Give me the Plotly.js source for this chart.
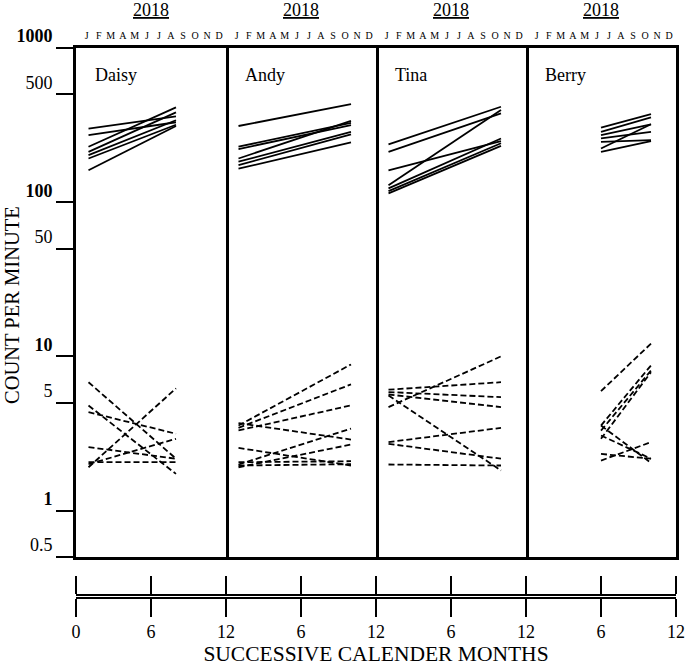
<!DOCTYPE html>
<html>
<head>
<meta charset="utf-8">
<script src="https://cdn.plot.ly/plotly-3.0.1.min.js"></script>
<style>body{margin:0;background:#fff}#chart{width:685px;height:666px}</style>
</head>
<body>
<div id="chart"></div>
<script>
// ---- data ----
const PANELS = ["Daisy", "Andy", "Tina", "Berry"];
const YEAR = "2018";
const MONTHS = ["J","F","M","A","M","J","J","A","S","O","N","D"];
const Y_TICKS = [1000, 500, 100, 50, 10, 5, 1, 0.5];
const Y_TICK_TEXT = ["<b>1000</b>", "500", "<b>100</b>", "50", "<b>10</b>", "5", "<b>1</b>", "0.5"];
const BOTTOM_TICKS = [0, 6, 12, 18, 24, 30, 36, 42, 48];
const BOTTOM_TICK_TEXT = ["0","6","12","6","12","6","12","6","12"];

const DAISY_MONTHS = [1, 8];
const DAISY_SOLID_START = [300, 272, 229, 212, 202, 192, 161];
const DAISY_SOLID_END   = [360, 330, 412, 382, 340, 318, 312];
const DAISY_DASH_START  = [6.8, 4.8, 4.35, 1.91, 2.58, 2.0, 2.06];
const DAISY_DASH_END    = [2.17, 1.73, 3.15, 6.2, 2.17, 2.92, 2.06];

const ANDY_MONTHS = [1, 10];
const ANDY_SOLID_START = [312, 229, 221, 192, 183, 174, 165];
const ANDY_SOLID_END   = [433, 327, 316, 337, 286, 275, 244];
const ANDY_DASH_START  = [3.56, 3.44, 3.31, 3.69, 2.55, 1.99, 1.91, 2.06, 1.96];
const ANDY_DASH_END    = [8.87, 6.58, 4.81, 2.89, 1.96, 3.40, 2.68, 2.09, 2.0];

const TINA_MONTHS = [1, 10];
const TINA_SOLID_START = [237, 212, 129, 161, 123, 118, 114];
const TINA_SOLID_END   = [416, 377, 396, 249, 259, 241, 232];
const TINA_DASH_START  = [4.69, 6.08, 5.87, 5.66, 5.58, 2.78, 2.71, 1.99];
const TINA_DASH_END    = [10.0, 6.8, 5.44, 4.69, 1.82, 3.44, 2.17, 1.96];

const BERRY_MONTHS = [6, 10];
const BERRY_SOLID_START = [304, 286, 272, 259, 246, 223, 212];
const BERRY_SOLID_END   = [373, 355, 320, 286, 253, 320, 249];
const BERRY_DASH_START  = [5.95, 3.56, 3.3, 2.92, 3.07, 2.33, 2.11, 3.56];
const BERRY_DASH_END    = [12.1, 8.74, 8.1, 7.9, 2.17, 2.17, 2.78, 2.04];

const SERIES = [
  {months: DAISY_MONTHS, ss: DAISY_SOLID_START, se: DAISY_SOLID_END, ds: DAISY_DASH_START, de: DAISY_DASH_END},
  {months: ANDY_MONTHS, ss: ANDY_SOLID_START, se: ANDY_SOLID_END, ds: ANDY_DASH_START, de: ANDY_DASH_END},
  {months: TINA_MONTHS, ss: TINA_SOLID_START, se: TINA_SOLID_END, ds: TINA_DASH_START, de: TINA_DASH_END},
  {months: BERRY_MONTHS, ss: BERRY_SOLID_START, se: BERRY_SOLID_END, ds: BERRY_DASH_START, de: BERRY_DASH_END}
];

// ---- build ----
const FONT = "Liberation Serif, Times New Roman, serif";
const traces = [];
SERIES.forEach((s, p) => {
  const xa = p === 0 ? 'x' : 'x' + (p + 1);
  const ya = p === 0 ? 'y' : 'y' + (p + 1);
  s.ss.forEach((v, i) => traces.push({
    x: s.months, y: [v, s.se[i]], xaxis: xa, yaxis: ya, mode: 'lines',
    line: {color: '#000', width: 1.8}, hoverinfo: 'skip', showlegend: false
  }));
  s.ds.forEach((v, i) => traces.push({
    x: s.months, y: [v, s.de[i]], xaxis: xa, yaxis: ya, mode: 'lines',
    line: {color: '#000', width: 1.8, dash: '6px,3px'}, hoverinfo: 'skip', showlegend: false
  }));
});
traces.push({x: [], y: [], xaxis: 'x5', yaxis: 'y5', mode: 'lines', showlegend: false});

const H = 666, MT = 48, MB = 69;
const PH = H - MT - MB;
const monthPos = MONTHS.map((m, i) => 0.85 + i * (10.6 / 11));

const layout = {
  width: 685, height: 666,
  margin: {l: 76, r: 9, t: MT, b: MB},
  paper_bgcolor: '#fff', plot_bgcolor: '#fff',
  font: {family: FONT, color: '#000'},
  showlegend: false,
  annotations: []
};
const yDom = [(597 - 557) / PH, 1];
PANELS.forEach((name, p) => {
  const k = p === 0 ? '' : String(p + 1);
  layout['xaxis' + k] = {
    domain: [p / 4, (p + 1) / 4], range: [0, 12], anchor: 'y' + k, side: 'top',
    tickvals: monthPos, ticktext: MONTHS, ticks: '', tickfont: {size: 10, family: FONT},
    showline: true, mirror: true, linewidth: 3, linecolor: '#000',
    showgrid: false, zeroline: false, fixedrange: true, ticklabelstandoff: 2
  };
  const ya = {
    domain: yDom, type: 'log', range: [Math.log10(0.5), 3], anchor: 'x' + k,
    showline: true, linewidth: 3, linecolor: '#000',
    showgrid: false, zeroline: false, fixedrange: true
  };
  if (p === 0) {
    Object.assign(ya, {
      mirror: true,
      tickvals: Y_TICKS, ticktext: Y_TICK_TEXT, ticks: 'outside', ticklen: 17,
      tickwidth: 2, tickcolor: '#000', tickfont: {size: 18, family: FONT},
      ticklabelshift: -12, ticklabelstandoff: 0
    });
  } else {
    Object.assign(ya, {matches: 'y', side: 'right', showticklabels: false, ticks: ''});
  }
  layout['yaxis' + k] = ya;
  layout.annotations.push({
    xref: 'paper', yref: 'paper', x: (p + 0.5) / 4, y: (H - MB - 10) / PH,
    text: '<u>' + YEAR + '</u>', showarrow: false, font: {size: 18, family: FONT},
    xanchor: 'center', yanchor: 'middle'
  });
  layout.annotations.push({
    xref: 'x' + k, yref: 'paper', x: 1.35, y: (H - MB - 75) / PH,
    text: name, showarrow: false, font: {size: 18, family: FONT},
    xanchor: 'left', yanchor: 'middle'
  });
});
layout.xaxis5 = {
  domain: [0, 1], range: [0, 48], anchor: 'y5',
  tickvals: BOTTOM_TICKS, ticktext: BOTTOM_TICK_TEXT, ticks: 'outside', ticklen: 18,
  tickwidth: 1.5, tickcolor: '#000', showline: true, linewidth: 1.5, linecolor: '#000',
  mirror: 'ticks', tickfont: {size: 18, family: FONT}, showgrid: false, zeroline: false,
  fixedrange: true,
  title: {text: 'SUCCESSIVE CALENDER MONTHS', font: {size: 21.5, family: FONT}, standoff: 6}
};
layout.yaxis5 = {domain: [0, 0.002], visible: false, fixedrange: true, range: [0, 1]};
layout.annotations.push({
  xref: 'paper', yref: 'paper', x: (12 - 76) / 600, y: (H - MB - 305) / PH,
  text: 'COUNT PER MINUTE', textangle: -90, showarrow: false,
  font: {size: 20.5, family: FONT}, xanchor: 'center', yanchor: 'middle'
});

Plotly.newPlot('chart', traces, layout, {displayModeBar: false, staticPlot: true});
</script>
</body>
</html>
